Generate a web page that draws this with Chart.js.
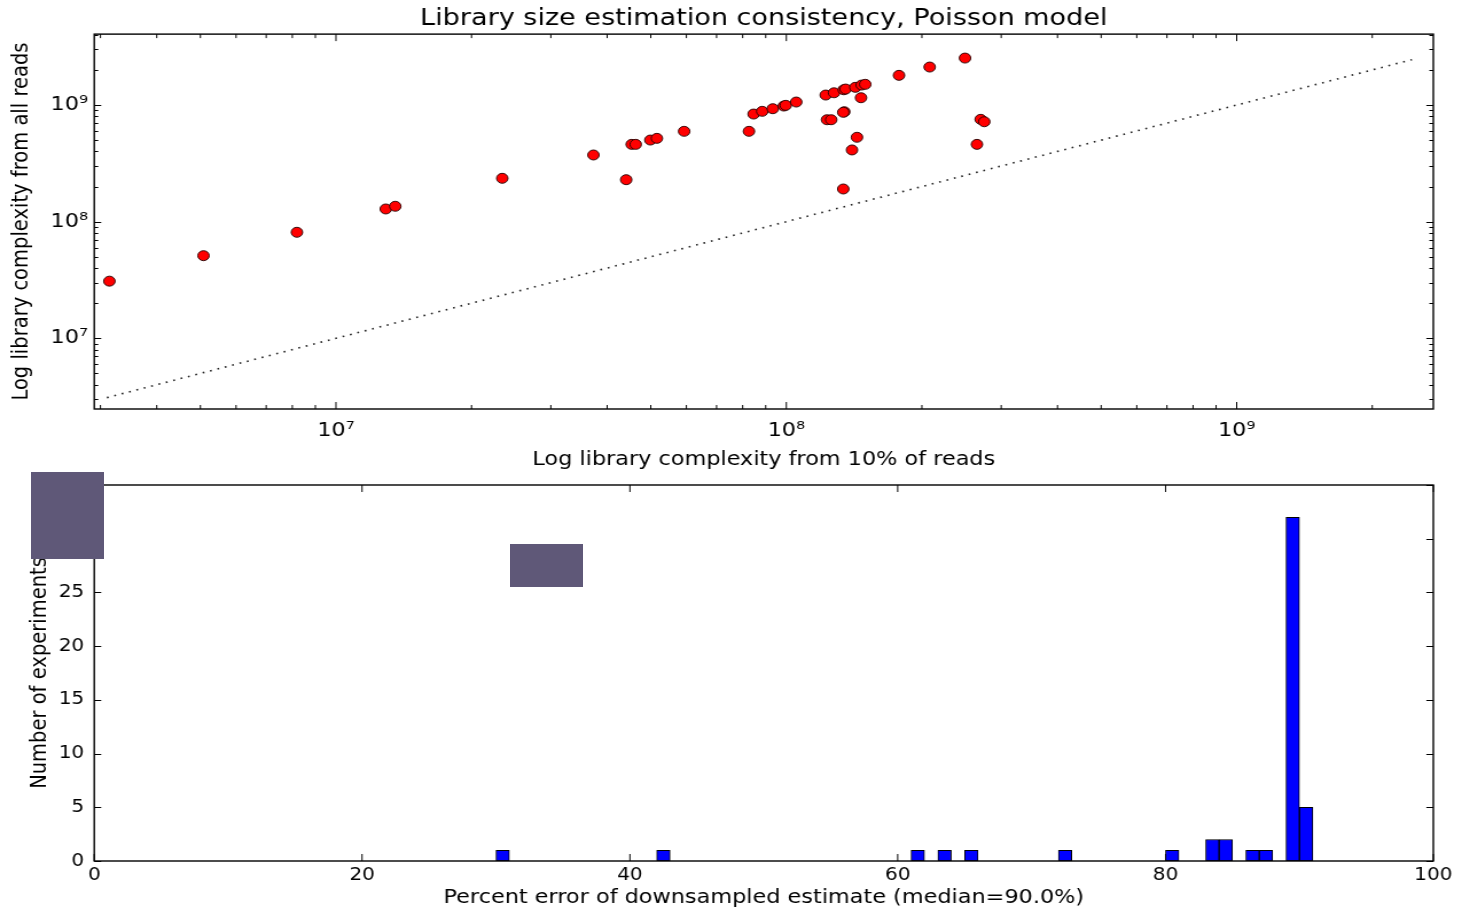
<!DOCTYPE html>
<html>
<head>
<meta charset="utf-8">
<style>
  body { margin: 0; background: #fff; }
  #figure { position: relative; width: 1462px; height: 907px; overflow: hidden; }
  #figure canvas { position: absolute; left: 0; width: 1462px; }
  .mask { position: absolute; background: #5f5878; }
</style>
</head>
<body>
<div id="figure">
  <canvas id="scatterChart" width="1275" height="470" style="top:0; height:470px;"></canvas>
  <canvas id="histChart" width="1275" height="437" style="top:470px; height:437px;"></canvas>
  <div class="mask" style="left:31px; top:472px; width:73px; height:87px;"></div>
  <div class="mask" style="left:510px; top:544px; width:73px; height:43px;"></div>
</div>
<script src="https://cdn.jsdelivr.net/npm/chart.js"></script>
<script>
    // the original figure is stretched sideways, so draw narrow and widen with CSS
    const FONT = 'DejaVu Sans';
    const STRETCH = 1462 / 1275;

    // Top panel: library complexity estimated from 10% of reads vs from all reads
    const complexity10pct = [3.14e6, 5.08e6, 8.19e6, 1.29e7, 1.354e7, 2.34e7, 3.73e7, 4.41e7, 4.535e7, 4.63e7,
        4.99e7, 5.16e7, 5.93e7, 8.26e7, 8.46e7, 8.84e7, 9.33e7, 9.87e7, 9.97e7, 1.052e8,
        1.223e8, 1.276e8, 1.341e8, 1.354e8, 1.423e8, 1.470e8, 1.497e8, 1.465e8, 1.345e8, 1.338e8,
        1.231e8, 1.258e8, 1.435e8, 1.399e8, 1.338e8, 1.779e8, 2.081e8, 2.493e8, 2.701e8, 2.751e8, 2.650e8];
    const complexityAll = [3.09e7, 5.11e7, 8.11e7, 1.285e8, 1.355e8, 2.354e8, 3.73e8, 2.29e8, 4.60e8, 4.60e8,
        5.01e8, 5.18e8, 5.95e8, 5.95e8, 8.37e8, 8.83e8, 9.30e8, 9.80e8, 9.94e8, 1.061e9,
        1.218e9, 1.274e9, 1.352e9, 1.371e9, 1.418e9, 1.484e9, 1.505e9, 1.155e9, 8.76e8, 8.66e8,
        7.48e8, 7.48e8, 5.29e8, 4.12e8, 1.906e8, 1.797e9, 2.117e9, 2.527e9, 7.54e8, 7.19e8, 4.60e8];
    const diagonal = [3.1e6, 2.45e9];          // y = x reference line ends
    const xRange = [2.906e6, 2.733e9];
    const yRange = [2.477e6, 4.055e9];
    const logTicks = [1e7, 1e8, 1e9];

    // Bottom panel: histogram of percent error, 1% bins
    const binStarts = [30, 42, 61, 63, 65, 72, 80, 83, 84, 86, 87, 89, 90];
    const binCounts = [1, 1, 1, 1, 1, 1, 1, 2, 2, 1, 1, 32, 5];
    const binWidth = 1;
    const pctTicks = [0, 20, 40, 60, 80, 100];
    const countTicks = [0, 5, 10, 15, 20, 25, 30, 35];

    const SUP = { '0': '⁰', '1': '¹', '2': '²', '3': '³', '4': '⁴', '5': '⁵', '6': '⁶', '7': '⁷', '8': '⁸', '9': '⁹' };
    function powLabel(v) {
        const e = String(Math.round(Math.log10(v)));
        return '10' + e.split('').map(c => SUP[c]).join('');
    }

    // matplotlib-style ticks pointing inward on all four sides, plus the frame
    const insideTicks = {
        id: 'insideTicks',
        afterDatasetsDraw(chart, args, opts) {
            const { ctx, chartArea: a, scales } = chart;
            const marks = (scale) => {
                const out = scale.ticks.map(t => [t.value, opts.major]);
                if (scale.type === 'logarithmic') {
                    const lo = Math.floor(Math.log10(scale.min)), hi = Math.ceil(Math.log10(scale.max));
                    for (let e = lo; e <= hi; e++) {
                        for (let m = 2; m <= 9; m++) {
                            const v = m * Math.pow(10, e);
                            if (v > scale.min && v < scale.max) out.push([v, opts.minor]);
                        }
                    }
                }
                return out;
            };
            ctx.save();
            ctx.strokeStyle = '#000';
            ctx.lineWidth = 1;
            ctx.beginPath();
            marks(scales.x).forEach(([v, len]) => {
                const px = scales.x.getPixelForValue(v);
                ctx.moveTo(px, a.bottom); ctx.lineTo(px, a.bottom - len);
                ctx.moveTo(px, a.top); ctx.lineTo(px, a.top + len);
            });
            marks(scales.y).forEach(([v, len]) => {
                const py = Math.round(scales.y.getPixelForValue(v)) + 0.5;
                const w = len / STRETCH;
                ctx.moveTo(a.left, py); ctx.lineTo(a.left + w, py);
                ctx.moveTo(a.right, py); ctx.lineTo(a.right - w, py);
            });
            ctx.stroke();
            ctx.lineWidth = 1.4;
            ctx.strokeRect(a.left, a.top, a.right - a.left, a.bottom - a.top);
            ctx.restore();
        }
    };

    const tickFont = (size) => ({ family: FONT, size: size });
    const labelFont = { family: FONT, size: 19.5 };
    const noGrid = { display: false, drawTicks: false };

    new Chart(document.getElementById('scatterChart'), {
        type: 'scatter',
        data: {
            datasets: [{
                label: 'experiments',
                data: complexity10pct.map((x, i) => ({ x: x, y: complexityAll[i] })),
                pointRadius: 5,
                pointBackgroundColor: '#ff0000',
                pointBorderColor: '#220000',
                pointBorderWidth: 0.9,
                order: 0
            }, {
                label: 'y = x',
                data: diagonal.map(v => ({ x: v, y: v })),
                showLine: true,
                pointRadius: 0,
                borderColor: '#222',
                borderWidth: 1.6,
                borderDash: [1.6, 5.1],
                order: 1
            }]
        },
        options: {
            responsive: false,
            animation: false,
            devicePixelRatio: 1,
            layout: { padding: { top: 0, right: 25, bottom: 0, left: 0 } },
            plugins: {
                legend: { display: false },
                tooltip: { enabled: false },
                title: {
                    display: true,
                    text: 'Library size estimation consistency, Poisson model',
                    fullSize: false,
                    color: '#000',
                    font: { family: FONT, size: 23.6, weight: 'normal' },
                    padding: { top: 5, bottom: 0.8 }
                },
                insideTicks: { major: 7, minor: 4 }
            },
            scales: {
                x: {
                    type: 'logarithmic',
                    min: xRange[0],
                    max: xRange[1],
                    grid: noGrid,
                    border: { display: false },
                    afterBuildTicks: s => { s.ticks = logTicks.map(v => ({ value: v })); },
                    afterFit: s => { s.height = 61; },
                    ticks: { autoSkip: false, maxRotation: 0, padding: 10, color: '#000', font: tickFont(19.5), callback: v => powLabel(v) },
                    title: { display: true, text: 'Log library complexity from 10% of reads', color: '#000', font: labelFont, padding: { top: 0, bottom: -1.5 } }
                },
                y: {
                    type: 'logarithmic',
                    min: yRange[0],
                    max: yRange[1],
                    grid: noGrid,
                    border: { display: false },
                    afterBuildTicks: s => { s.ticks = logTicks.map(v => ({ value: v })); },
                    afterFit: s => { s.width = 82.2; s.paddingTop = 0; s.paddingBottom = 0; },
                    ticks: { autoSkip: false, padding: 5.5, color: '#000', font: tickFont(19.5), callback: v => powLabel(v) },
                    title: { display: true, text: 'Log library complexity from all reads', color: '#000', font: labelFont, padding: { top: 7.5, bottom: 0 } }
                }
            }
        },
        plugins: [insideTicks]
    });

    new Chart(document.getElementById('histChart'), {
        type: 'bar',
        data: {
            datasets: [{
                label: 'experiments',
                data: binStarts.map((s, i) => ({ x: s + binWidth / 2, y: binCounts[i] })),
                backgroundColor: '#0000ff',
                borderColor: '#000',
                borderWidth: 1,
                borderSkipped: false,
                barPercentage: 1,
                categoryPercentage: 1
            }]
        },
        options: {
            responsive: false,
            animation: false,
            devicePixelRatio: 1,
            layout: { padding: { top: 15, right: 25, bottom: 0, left: 0 } },
            plugins: {
                legend: { display: false },
                tooltip: { enabled: false },
                insideTicks: { major: 7, minor: 4 }
            },
            scales: {
                x: {
                    type: 'linear',
                    offset: false,
                    min: 0,
                    max: 100,
                    grid: { display: false, drawTicks: false, offset: false },
                    border: { display: false },
                    afterBuildTicks: s => { s.ticks = pctTicks.map(v => ({ value: v })); },
                    afterFit: s => { s.height = 46; },
                    ticks: { autoSkip: false, maxRotation: 0, padding: 3.5, color: '#000', font: tickFont(17.5) },
                    title: { display: true, text: 'Percent error of downsampled estimate (median=90.0%)', color: '#000', font: labelFont, padding: { top: 0, bottom: -2.5 } }
                },
                y: {
                    type: 'linear',
                    min: 0,
                    max: 35,
                    grid: noGrid,
                    border: { display: false },
                    afterBuildTicks: s => { s.ticks = countTicks.map(v => ({ value: v })); },
                    afterFit: s => { s.width = 82.2; s.paddingTop = 0; s.paddingBottom = 0; },
                    ticks: { autoSkip: false, padding: 8.7, color: '#000', font: tickFont(17.5) },
                    title: { display: true, text: 'Number of experiments', color: '#000', font: labelFont, padding: { top: 23, bottom: 0 } }
                }
            }
        },
        plugins: [insideTicks]
    });
</script>
</body>
</html>
